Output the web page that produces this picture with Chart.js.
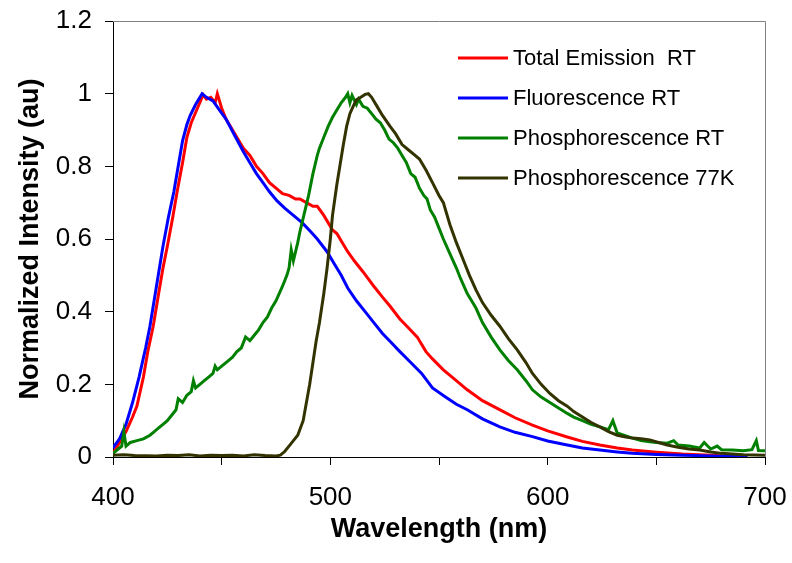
<!DOCTYPE html>
<html>
<head>
<meta charset="utf-8">
<script src="https://cdn.jsdelivr.net/npm/chart.js@4.4.1/dist/chart.umd.min.js"></script>
<style>
  html, body { margin: 0; padding: 0; background: #fff; }
  #chart { display: block; }
</style>
</head>
<body>
<canvas id="chart" width="792" height="563"></canvas>
<script>
// values (wavelength in nm, normalized intensity)
const totalX = [400, 403, 406, 409, 411, 414, 416, 418.5, 421, 423, 425, 427.5, 429.5, 432, 434, 436, 438.5, 441.5, 443, 445, 447, 448, 450, 452, 455, 458, 460, 463, 466, 469, 472, 475, 478, 481, 484, 486, 489, 492, 494, 497, 501, 503, 506, 508, 511, 515, 520, 524, 527.5, 532, 536, 540, 544, 547, 552, 557, 563, 570, 577, 585, 593, 600, 609, 616, 624, 632, 639, 650, 662, 675, 682];
const totalY = [0.01, 0.04, 0.07, 0.11, 0.14, 0.22, 0.29, 0.36, 0.45, 0.52, 0.58, 0.66, 0.73, 0.81, 0.88, 0.92, 0.955, 0.997, 0.985, 0.99, 0.975, 1.0, 0.96, 0.93, 0.9, 0.87, 0.85, 0.83, 0.8, 0.78, 0.755, 0.74, 0.725, 0.72, 0.71, 0.71, 0.7, 0.69, 0.69, 0.665, 0.625, 0.615, 0.585, 0.565, 0.54, 0.51, 0.47, 0.44, 0.415, 0.38, 0.355, 0.33, 0.29, 0.27, 0.24, 0.215, 0.185, 0.155, 0.133, 0.108, 0.088, 0.072, 0.055, 0.043, 0.033, 0.025, 0.019, 0.013, 0.008, 0.005, 0.003];

const fluoX = [400, 403, 406, 409, 412, 415, 417, 420, 423, 425.5, 428, 430, 432, 434, 435.5, 438, 441, 443, 446, 449, 452, 456, 460, 463, 466, 469, 472, 475.5, 479, 483, 487, 491, 494, 498.5, 502, 505, 508, 512, 516, 520, 524, 528, 532, 537, 542, 547, 553, 558, 563, 570, 578, 585, 593, 600, 609, 616, 624, 632, 639, 650, 662, 675, 692];
const fluoY = [0.025, 0.05, 0.09, 0.15, 0.22, 0.3, 0.36, 0.47, 0.58, 0.66, 0.73, 0.8, 0.87, 0.915, 0.94, 0.97, 1.0, 0.99, 0.98, 0.955, 0.93, 0.885, 0.84, 0.81, 0.78, 0.755, 0.73, 0.705, 0.685, 0.665, 0.645, 0.62, 0.6, 0.565, 0.53, 0.5, 0.465, 0.43, 0.4, 0.37, 0.34, 0.315, 0.29, 0.26, 0.23, 0.19, 0.165, 0.145, 0.13, 0.105, 0.083, 0.068, 0.056, 0.044, 0.033, 0.025, 0.019, 0.014, 0.01, 0.007, 0.005, 0.003, 0.001];

const phosRtX = [400, 402, 404, 405, 406, 408, 411, 414, 417, 419, 421, 423, 425, 427, 429, 430, 432, 434, 436, 437, 438, 440, 442, 444, 446, 447, 448, 450, 452, 455, 457, 459, 461, 463, 465, 467, 469, 471, 473, 475, 478, 480, 481, 482, 483, 485, 486, 488, 490, 492, 494, 495, 497, 499, 501, 503, 505, 507, 508, 509, 510, 512, 513, 515, 517, 519, 521, 523, 525, 527, 529, 531, 533, 535, 537, 539, 541, 543, 544.5, 546, 548, 550, 552, 555, 558, 560, 563, 565, 567, 570, 574, 578, 582, 586, 590, 593, 597, 601, 605, 609, 612, 616, 620, 624, 628, 630, 632, 636, 639, 643, 647, 650, 655, 658, 660, 665, 670, 672, 675, 678, 680, 685, 690, 694, 696, 697, 700];
const phosRtY = [0.01, 0.02, 0.03, 0.07, 0.03, 0.04, 0.045, 0.05, 0.06, 0.07, 0.08, 0.09, 0.1, 0.115, 0.13, 0.16, 0.15, 0.17, 0.18, 0.21, 0.19, 0.2, 0.21, 0.22, 0.23, 0.25, 0.24, 0.25, 0.26, 0.275, 0.29, 0.3, 0.33, 0.32, 0.335, 0.35, 0.37, 0.385, 0.41, 0.43, 0.47, 0.5, 0.52, 0.57, 0.54, 0.59, 0.62, 0.67, 0.72, 0.78, 0.83, 0.85, 0.88, 0.91, 0.935, 0.955, 0.975, 0.99, 1.0, 0.975, 0.995, 0.97, 0.985, 0.965, 0.96, 0.945, 0.93, 0.92, 0.9, 0.875, 0.865, 0.85, 0.83, 0.81, 0.78, 0.77, 0.74, 0.72, 0.71, 0.68, 0.66, 0.63, 0.6, 0.56, 0.52, 0.49, 0.45, 0.43, 0.41, 0.37, 0.33, 0.295, 0.265, 0.24, 0.21, 0.185, 0.165, 0.15, 0.135, 0.12, 0.11, 0.1, 0.09, 0.083, 0.075, 0.1, 0.066, 0.058, 0.052, 0.045, 0.042, 0.04, 0.038, 0.045, 0.033, 0.03, 0.025, 0.04, 0.022, 0.03, 0.02, 0.019, 0.017, 0.02, 0.045, 0.018, 0.017];

const phos77X = [400, 405, 410, 420, 425, 430, 435, 440, 445, 450, 455, 460, 465, 470, 475, 477, 479, 481, 483, 485, 487.5, 489, 490.5, 492, 493.5, 495, 497, 498.5, 500, 501, 503, 504.5, 506, 507.5, 509, 510.5, 512, 514, 516, 517.5, 519, 521.5, 524, 527.5, 530, 533, 536, 539, 541, 544, 547, 550, 552, 555, 558, 561, 564, 567, 570, 574, 578, 582, 586, 590, 593, 597, 601, 605, 609, 612, 616, 620, 624, 628, 632, 636, 639, 643, 647, 651, 655, 660, 665, 670, 675, 680, 685, 690, 700];
const phos77Y = [0.005, 0.006, 0.004, 0.003, 0.005, 0.004, 0.006, 0.003, 0.005, 0.004, 0.005, 0.003, 0.006, 0.004, 0.003, 0.005, 0.015, 0.03, 0.045, 0.06, 0.1, 0.15, 0.2, 0.26, 0.32, 0.37, 0.45, 0.52, 0.6, 0.665, 0.75, 0.805, 0.86, 0.91, 0.945, 0.965, 0.983, 0.99, 0.998, 1.0, 0.99, 0.965, 0.94, 0.91, 0.89, 0.86, 0.845, 0.83, 0.82, 0.79, 0.755, 0.72, 0.7, 0.64, 0.59, 0.545, 0.5, 0.46, 0.425, 0.39, 0.36, 0.325, 0.295, 0.26, 0.23, 0.2, 0.175, 0.155, 0.14, 0.125, 0.11, 0.095, 0.083, 0.07, 0.06, 0.055, 0.052, 0.05, 0.047, 0.04, 0.033, 0.027, 0.022, 0.019, 0.014, 0.01, 0.008, 0.006, 0.005];

const seriesNames = ['Total Emission  RT', 'Fluorescence RT', 'Phosphorescence RT', 'Phosphorescence 77K'];
const seriesColors = ['#ff0000', '#0000ff', '#008000', '#333300'];
const xTicks = [400, 500, 600, 700];
const yTicks = [0, 0.2, 0.4, 0.6, 0.8, 1, 1.2];

const FONT = 'Arial, "Liberation Sans", sans-serif';

function points(xs, ys) {
  return xs.map(function(x, i){ return { x: x, y: ys[i] }; });
}

const allX = [totalX, fluoX, phosRtX, phos77X];
const allY = [totalY, fluoY, phosRtY, phos77Y];

const datasets = seriesNames.map(function(name, i){
  return {
    label: name,
    data: points(allX[i], allY[i]),
    borderColor: seriesColors[i],
    backgroundColor: seriesColors[i],
    borderWidth: 3,
    pointRadius: 0,
    showLine: true,
    tension: 0,
    order: seriesNames.length - i   // later series drawn on top, like the original
  };
});

// gray top/right frame of the plot area
const frame = {
  id: 'frame',
  beforeDatasetsDraw(chart) {
    const a = chart.chartArea, ctx = chart.ctx;
    ctx.save();
    ctx.strokeStyle = '#808080';
    ctx.lineWidth = 1;
    ctx.beginPath();
    ctx.moveTo(a.left, a.top + 0.5);
    ctx.lineTo(a.right + 0.5, a.top + 0.5);
    ctx.lineTo(a.right + 0.5, a.bottom);
    ctx.stroke();
    ctx.restore();
  }
};

// legend inside the plot, top right, no box
const insideLegend = {
  id: 'insideLegend',
  afterDatasetsDraw(chart) {
    const ctx = chart.ctx;
    ctx.save();
    ctx.font = '22px ' + FONT;
    ctx.textBaseline = 'middle';
    ctx.textAlign = 'left';
    chart.data.datasets.forEach(function(ds, i){
      const y = 58 + i * 40;
      ctx.strokeStyle = ds.borderColor;
      ctx.lineWidth = 3;
      ctx.beginPath();
      ctx.moveTo(458, y);
      ctx.lineTo(508, y);
      ctx.stroke();
      ctx.fillStyle = '#000';
      ctx.fillText(ds.label, 513, y + 1);
    });
    ctx.restore();
  }
};

new Chart(document.getElementById('chart'), {
  type: 'scatter',
  data: { datasets: datasets },
  plugins: [frame, insideLegend],
  options: {
    responsive: false,
    animation: false,
    devicePixelRatio: 1,
    layout: { padding: { top: 21, right: 27, left: 0, bottom: 0 } },
    plugins: { legend: { display: false }, tooltip: { enabled: false } },
    scales: {
      x: {
        type: 'linear',
        min: 400,
        max: 700,
        afterFit(scale) {
          scale.height = 106;
          scale.paddingLeft = 0;
          scale.paddingRight = 0;
        },
        afterBuildTicks(scale) {
          scale.ticks = [400, 450, 500, 550, 600, 650, 700].map(function(v){ return { value: v }; });
        },
        ticks: {
          autoSkip: false,
          maxRotation: 0,
          padding: 17,
          color: '#000',
          font: { family: FONT, size: 26 },
          callback(v) { return xTicks.indexOf(v) >= 0 ? String(v) : ''; }
        },
        grid: { display: true, drawOnChartArea: false, drawTicks: true, tickLength: 8, tickColor: '#000' },
        border: { display: true, color: '#000', width: 1 },
        title: {
          display: true,
          text: 'Wavelength (nm)',
          color: '#000',
          font: { family: FONT, size: 27, weight: 'bold' },
          padding: { top: 0, bottom: 17 }
        }
      },
      y: {
        min: 0,
        max: 1.2,
        afterFit(scale) {
          scale.width = 113;
          scale.paddingTop = 0;
          scale.paddingBottom = 0;
        },
        afterBuildTicks(scale) {
          scale.ticks = yTicks.map(function(v){ return { value: v }; });
        },
        ticks: {
          padding: 13,
          color: '#000',
          font: { family: FONT, size: 26 },
          callback(v) { return String(+v.toFixed(1)); }
        },
        grid: { display: true, drawOnChartArea: false, drawTicks: true, tickLength: 8, tickColor: '#000' },
        border: { display: true, color: '#000', width: 1 },
        title: {
          display: true,
          text: 'Normalized Intensity (au)',
          color: '#000',
          font: { family: FONT, size: 27, weight: 'bold' },
          padding: { top: 14, bottom: 0 }
        }
      }
    }
  }
});
</script>
</body>
</html>
